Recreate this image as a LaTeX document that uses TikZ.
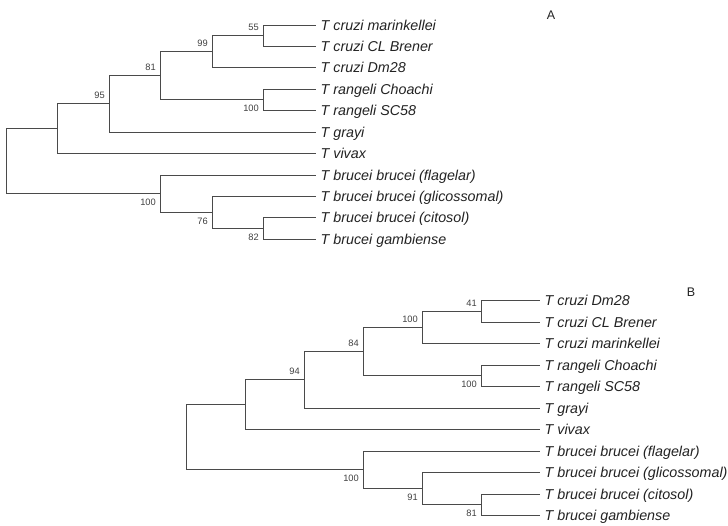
\documentclass[tikz,border=0pt]{standalone}
\usepackage{fontspec}
\setmainfont{Liberation Sans}
\definecolor{branch}{HTML}{4A4A4A}
\definecolor{leaftext}{HTML}{222222}
\definecolor{bstext}{HTML}{404040}
\begin{document}
\begin{tikzpicture}[x=1pt,y=-1pt,
  br/.style={draw=branch,line width=1.2pt},
  leaf/.style={anchor=west,inner xsep=5pt,inner ysep=0pt,text height=10.2pt,text depth=0pt,
    font=\fontsize{14.3}{16}\selectfont\itshape,text=leaftext},
  bsa/.style={anchor=base east,inner sep=0pt,xshift=-4.5pt,yshift=5.5pt,
    font=\fontsize{9.3}{10}\selectfont,text=bstext},
  bsb/.style={anchor=base east,inner sep=0pt,xshift=-4.5pt,yshift=-12pt,
    font=\fontsize{9.3}{10}\selectfont,text=bstext},
  ttl/.style={font=\fontsize{12.5}{14}\selectfont,text=leaftext,inner sep=0pt}]
\useasboundingbox (0,0) rectangle (728,525);
% ---------------- Tree A ----------------
\coordinate (a1) at (315.5,25.5);
\coordinate (a2) at (315.5,46.5);
\coordinate (a3) at (315.5,67.5);
\coordinate (a4) at (315.5,89.5);
\coordinate (a5) at (315.5,110.5);
\coordinate (a6) at (315.5,132.5);
\coordinate (a7) at (315.5,153.5);
\coordinate (a8) at (315.5,175.5);
\coordinate (a9) at (315.5,196.5);
\coordinate (a10) at (315.5,217.5);
\coordinate (a11) at (315.5,239.5);
\node[leaf] (ta1) at (a1) {T cruzi marinkellei};
\node[leaf] (ta2) at (a2) {T cruzi CL Brener};
\node[leaf] (ta3) at (a3) {T cruzi Dm28};
\node[leaf] (ta4) at (a4) {T rangeli Choachi};
\node[leaf] (ta5) at (a5) {T rangeli SC58};
\node[leaf] (ta6) at (a6) {T grayi};
\node[leaf] (ta7) at (a7) {T vivax};
\node[leaf] (ta8) at (a8) {T brucei brucei (flagelar)};
\node[leaf] (ta9) at (a9) {T brucei brucei (glicossomal)};
\node[leaf] (ta10) at (a10) {T brucei brucei (citosol)};
\node[leaf] (ta11) at (a11) {T brucei gambiense};
\coordinate (A55) at (263.5,35.5);
\coordinate (A99) at (212.5,51.5);
\coordinate (ArA) at (263.5,99.5);
\coordinate (A81) at (160.5,75.5);
\coordinate (A95) at (109.5,103.5);
\coordinate (Av) at (57.5,128.5);
\coordinate (A82) at (263.5,228.5);
\coordinate (A76) at (212.5,212.5);
\coordinate (Ab) at (160.5,193.5);
\coordinate (Aroot) at (6.5,161);
\draw[br] (A55) |- (a1) (A55) |- (a2);
\draw[br] (A99) |- (A55) (A99) |- (a3);
\draw[br] (ArA) |- (a4) (ArA) |- (a5);
\draw[br] (A81) |- (A99) (A81) |- (ArA);
\draw[br] (A95) |- (A81) (A95) |- (a6);
\draw[br] (Av) |- (A95) (Av) |- (a7);
\draw[br] (A82) |- (a10) (A82) |- (a11);
\draw[br] (A76) |- (a9) (A76) |- (A82);
\draw[br] (Ab) |- (a8) (Ab) |- (A76);
\draw[br] (Aroot) |- (Av) (Aroot) |- (Ab);
\node[bsa] (lA55) at (A55) {55};
\node[bsa] (lA99) at (A99) {99};
\node[bsa] (lA81) at (A81) {81};
\node[bsa] (lA95) at (A95) {95};
\node[bsb] (lArA) at (ArA) {100};
\node[bsb] (lAb) at (Ab) {100};
\node[bsb] (lA76) at (A76) {76};
\node[bsb] (lA82) at (A82) {82};
\node[ttl] (titleA) at (551,15) {A};
% ---------------- Tree B ----------------
\coordinate (b1) at (539.5,300.5);
\coordinate (b2) at (539.5,322.5);
\coordinate (b3) at (539.5,343.5);
\coordinate (b4) at (539.5,365.5);
\coordinate (b5) at (539.5,386.5);
\coordinate (b6) at (539.5,408.5);
\coordinate (b7) at (539.5,429.5);
\coordinate (b8) at (539.5,451.5);
\coordinate (b9) at (539.5,472.5);
\coordinate (b10) at (539.5,494.5);
\coordinate (b11) at (539.5,515.5);
\node[leaf] (tb1) at (b1) {T cruzi Dm28};
\node[leaf] (tb2) at (b2) {T cruzi CL Brener};
\node[leaf] (tb3) at (b3) {T cruzi marinkellei};
\node[leaf] (tb4) at (b4) {T rangeli Choachi};
\node[leaf] (tb5) at (b5) {T rangeli SC58};
\node[leaf] (tb6) at (b6) {T grayi};
\node[leaf] (tb7) at (b7) {T vivax};
\node[leaf] (tb8) at (b8) {T brucei brucei (flagelar)};
\node[leaf] (tb9) at (b9) {T brucei brucei (glicossomal)};
\node[leaf] (tb10) at (b10) {T brucei brucei (citosol)};
\node[leaf] (tb11) at (b11) {T brucei gambiense};
\coordinate (B41) at (481.5,311.5);
\coordinate (B100) at (422.5,327.5);
\coordinate (BrB) at (481.5,375.5);
\coordinate (B84) at (363.5,351.5);
\coordinate (B94) at (304.5,379.5);
\coordinate (Bv) at (245.5,404.5);
\coordinate (B81) at (481.5,504.5);
\coordinate (B91) at (422.5,488.5);
\coordinate (Bb) at (363.5,469.5);
\coordinate (Broot) at (186.5,436.5);
\draw[br] (B41) |- (b1) (B41) |- (b2);
\draw[br] (B100) |- (B41) (B100) |- (b3);
\draw[br] (BrB) |- (b4) (BrB) |- (b5);
\draw[br] (B84) |- (B100) (B84) |- (BrB);
\draw[br] (B94) |- (B84) (B94) |- (b6);
\draw[br] (Bv) |- (B94) (Bv) |- (b7);
\draw[br] (B81) |- (b10) (B81) |- (b11);
\draw[br] (B91) |- (b9) (B91) |- (B81);
\draw[br] (Bb) |- (b8) (Bb) |- (B91);
\draw[br] (Broot) |- (Bv) (Broot) |- (Bb);
\node[bsa] (lB41) at (B41) {41};
\node[bsa] (lB100) at (B100) {100};
\node[bsa] (lB84) at (B84) {84};
\node[bsa] (lB94) at (B94) {94};
\node[bsb] (lBrB) at (BrB) {100};
\node[bsb] (lBb) at (Bb) {100};
\node[bsb] (lB91) at (B91) {91};
\node[bsb] (lB81) at (B81) {81};
\node[ttl] (titleB) at (691,292) {B};
\end{tikzpicture}
\end{document}
